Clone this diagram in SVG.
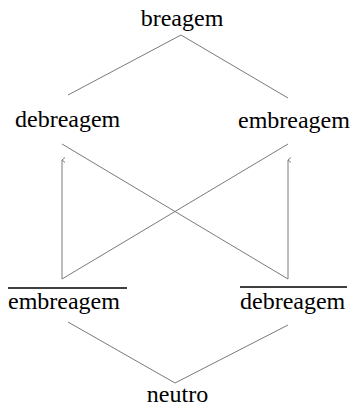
<svg xmlns="http://www.w3.org/2000/svg" width="354" height="408" viewBox="0 0 354 408">
<defs>
<style>
text{font-family:"Liberation Serif","Times New Roman",serif;font-size:24px;fill:#000}
.c line{stroke:#7a7a7a;stroke-width:1;fill:none}
.ov{stroke:#000;stroke-width:1.3}
</style>
<marker id="ah" markerWidth="8" markerHeight="8" refX="4" refY="1" orient="auto" markerUnits="userSpaceOnUse" viewBox="0 0 8 8">
<path d="M1.5,4 L4,1 L6.5,4" fill="none" stroke="#7a7a7a" stroke-width="1"/>
</marker>
</defs>
<rect width="354" height="408" fill="#fff"/>
<g class="c" id="connectors">
<line x1="181" y1="35" x2="68" y2="95"/>
<line x1="181" y1="35" x2="288" y2="98"/>
<line x1="62" y1="144" x2="288" y2="279"/>
<line x1="288" y1="144" x2="62" y2="279"/>
<line x1="62" y1="279" x2="62" y2="160" marker-end="url(#ah)"/>
<line x1="288" y1="279" x2="288" y2="160" marker-end="url(#ah)"/>
<line x1="68" y1="322" x2="175" y2="383"/>
<line x1="288" y1="325" x2="175" y2="383"/>
</g>
<g id="breagem"><text x="182" y="26" text-anchor="middle">breagem</text></g>
<g id="debreagem"><text x="15" y="127">debreagem</text></g>
<g id="embreagem"><text x="238" y="128">embreagem</text></g>
<g id="embreagem-neg"><line class="ov" x1="8" y1="288" x2="127" y2="288"/><text x="8" y="309">embreagem</text></g>
<g id="debreagem-neg"><line class="ov" x1="240" y1="287" x2="347" y2="287"/><text x="240" y="309">debreagem</text></g>
<g id="neutro"><text x="177.5" y="402" text-anchor="middle">neutro</text></g>
</svg>
